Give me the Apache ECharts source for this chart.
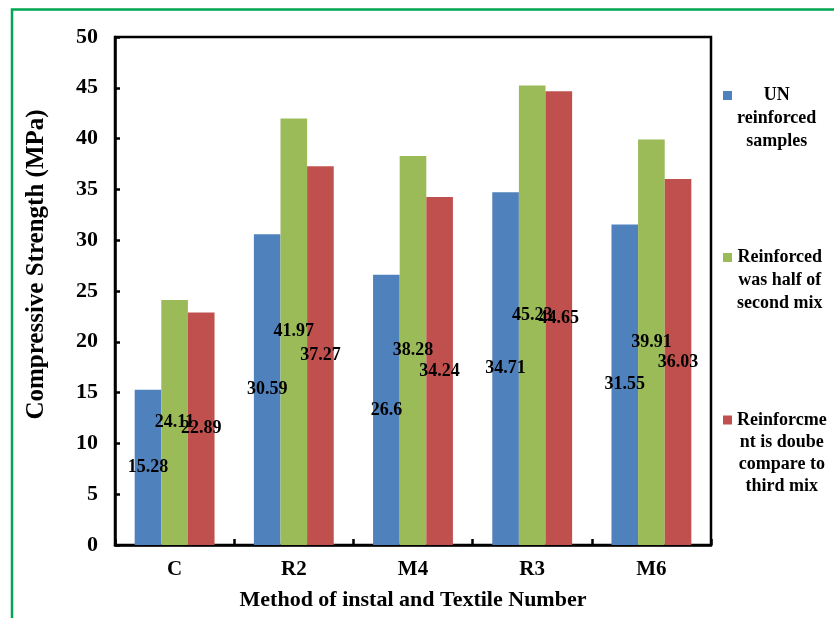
<!DOCTYPE html>
<html>
<head>
<meta charset="utf-8">
<script src="https://cdn.jsdelivr.net/npm/echarts@6/dist/echarts.min.js"></script>
<style>
html,body{margin:0;padding:0;background:#fff;}
#chart{width:834px;height:618px;}
</style>
</head>
<body>
<div id="chart"></div>
<script>
const categories = ['C', 'R2', 'M4', 'R3', 'M6'];
const unreinforced = [15.28, 30.59, 26.6, 34.71, 31.55];
const halfReinforced = [24.11, 41.97, 38.28, 45.23, 39.91];
const doubleReinforced = [22.89, 37.27, 34.24, 44.65, 36.03];
const seriesNames = ['UN reinforced samples', 'Reinforced was half of second mix', 'Reinforcme nt is doube compare to third mix'];
const legendLines = [
  ['UN', 'reinforced', 'samples'],
  ['Reinforced', 'was half of', 'second mix'],
  ['Reinforcme', 'nt is doube', 'compare to', 'third mix']
];
const yMin = 0, yMax = 50, yStep = 5;
const xTitle = 'Method of instal and Textile Number';
const yTitle = 'Compressive Strength (MPa)';

const FONT = '"Liberation Serif", "Times New Roman", serif';
const colors = ['#4F81BD', '#9BBB59', '#C0504D'];
const values = [unreinforced, halfReinforced, doubleReinforced];

const chart = echarts.init(document.getElementById('chart'), null, {renderer: 'canvas'});

const legendTops = [86.5, 248.5, 411];
const legendLH = [23, 23, 22];

const legends = seriesNames.map(function (name, i) {
  const lines = legendLines[i];
  const lh = legendLH[i];
  return {
    data: [name],
    orient: 'vertical',
    left: 723,
    top: legendTops[i],
    padding: 0,
    itemWidth: 9,
    itemHeight: 9,
    icon: 'rect',
    selectedMode: false,
    formatter: function () {
      return lines.map(function (l) { return '{c|' + l + '}'; }).join('\n');
    },
    textStyle: {
      padding: [(lines.length - 1) * lh, 0, 0, 0],
      rich: {
        c: {
          align: 'center',
          fontFamily: FONT,
          fontWeight: 'bold',
          fontSize: 18,
          lineHeight: lh,
          color: '#000'
        }
      }
    }
  };
});

const option = {
  animation: false,
  backgroundColor: '#fff',
  color: colors,
  graphic: [{
    type: 'rect',
    shape: {x: 12, y: 9.5, width: 900, height: 700},
    style: {fill: 'none', stroke: '#00A651', lineWidth: 2.5},
    silent: true,
    z: 100
  }],
  legend: legends,
  grid: {
    left: 115, right: 123, top: 37, bottom: 73,
    show: true, borderColor: '#000', borderWidth: 2.5
  },
  xAxis: {
    type: 'category',
    data: categories,
    name: xTitle,
    nameLocation: 'middle',
    nameGap: 44,
    nameTextStyle: {fontFamily: FONT, fontWeight: 'bold', fontSize: 22, color: '#000'},
    axisLine: {lineStyle: {color: '#000', width: 2.5}},
    axisTick: {show: true, inside: true, length: 6, alignWithLabel: false, lineStyle: {color: '#000', width: 2.5}},
    axisLabel: {fontFamily: FONT, fontWeight: 'bold', fontSize: 21, color: '#000', margin: 14},
    splitLine: {show: false}
  },
  yAxis: {
    type: 'value',
    min: yMin, max: yMax, interval: yStep,
    name: yTitle,
    nameLocation: 'middle',
    nameGap: 66,
    nameTextStyle: {fontFamily: FONT, fontWeight: 'bold', fontSize: 25, color: '#000', padding: [0, 0, 0, 53]},
    axisLine: {show: true, lineStyle: {color: '#000', width: 2.5}},
    axisTick: {show: true, inside: true, length: 5, lineStyle: {color: '#000', width: 2.5}},
    axisLabel: {fontFamily: FONT, fontWeight: 'bold', fontSize: 22, color: '#000', margin: 17},
    splitLine: {show: false}
  },
  series: seriesNames.map(function (name, i) {
    return {
      name: name,
      type: 'bar',
      data: values[i],
      barGap: '0%',
      barCategoryGap: '33%',
      itemStyle: {color: colors[i]},
      label: {
        show: true,
        position: 'inside',
        fontFamily: FONT,
        fontWeight: 'bold',
        fontSize: 18,
        color: '#000',
        textBorderWidth: 0
      },
      emphasis: {disabled: true}
    };
  })
};

chart.setOption(option);
</script>
</body>
</html>
